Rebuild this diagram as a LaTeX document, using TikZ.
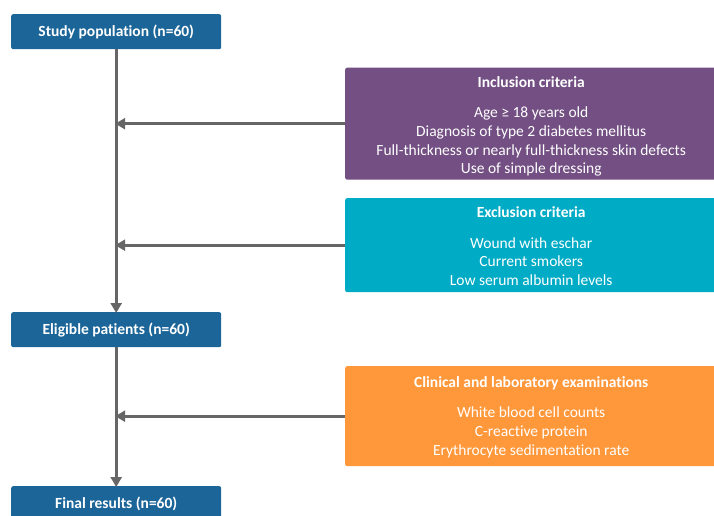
\documentclass[tikz,border=0pt]{standalone}
\usepackage{fontspec}
\setmainfont{Carlito}[Ligatures=NoCommon]
\usetikzlibrary{arrows.meta}

\definecolor{stepblue}{RGB}{27,101,152}
\definecolor{inclpurple}{RGB}{115,79,131}
\definecolor{exclteal}{RGB}{0,171,197}
\definecolor{examorange}{RGB}{255,152,58}
\definecolor{flowgray}{RGB}{102,102,102}

\tikzset{
  stagebox/.style={fill=stepblue, text=white, rounded corners=2pt, anchor=north west,
    minimum width=210pt, minimum height=35pt, inner sep=0pt,
    font=\fontsize{15.5}{18}\selectfont\bfseries},
  critbox/.style={text=white, rounded corners=2pt, anchor=north west,
    minimum width=372pt, align=center, inner sep=0pt,
    font=\fontsize{15.5}{18.7}\selectfont},
  flowarrow/.style={draw=flowgray, line width=3pt,
    -{Triangle[length=10pt, width=11pt]}, shorten >=-1pt}
}

\begin{document}
\begin{tikzpicture}[x=1pt, y=-1pt]

    \clip (0,0) rectangle (714,516);
    \useasboundingbox (0,0) rectangle (714,516);

    % Main stages
    \node[stagebox] (study) at (11,14) {Study population (n=60)};
    \node[stagebox] (eligible) at (11,312) {Eligible patients (n=60)};
    \node[stagebox] (final) at (11,486) {Final results (n=60)};

    % Criteria boxes
    \node[critbox, fill=inclpurple, minimum height=112pt] (incl) at (345,67.5) {%
        \rule{0pt}{17pt}\textbf{Inclusion criteria}\\[11pt]
        Age ≥ 18 years old\\
        Diagnosis of type 2 diabetes mellitus\\
        Full-thickness or nearly full-thickness skin defects\\
        Use of simple dressing};
    \node[critbox, fill=exclteal, minimum height=94pt] (excl) at (345,198) {%
        \rule{0pt}{13pt}\textbf{Exclusion criteria}\\[11.5pt]
        Wound with eschar\\
        Current smokers\\
        Low serum albumin levels};
    \node[critbox, fill=examorange, minimum height=100pt] (exam) at (345,366) {%
        \rule{0pt}{13pt}\textbf{Clinical and laboratory examinations}\\[11.5pt]
        White blood cell counts\\
        C-reactive protein\\
        Erythrocyte sedimentation rate};

    % Trunk
    \draw[flowarrow] (study.south) -- (eligible.north);
    \draw[flowarrow] (eligible.south) -- (final.north);

    % Side arrows into the trunk
    \foreach \crit in {incl, excl, exam} {
        \draw[flowarrow] (\crit.west) -- (\crit.west -| study.south);
    }

\end{tikzpicture}
\end{document}
